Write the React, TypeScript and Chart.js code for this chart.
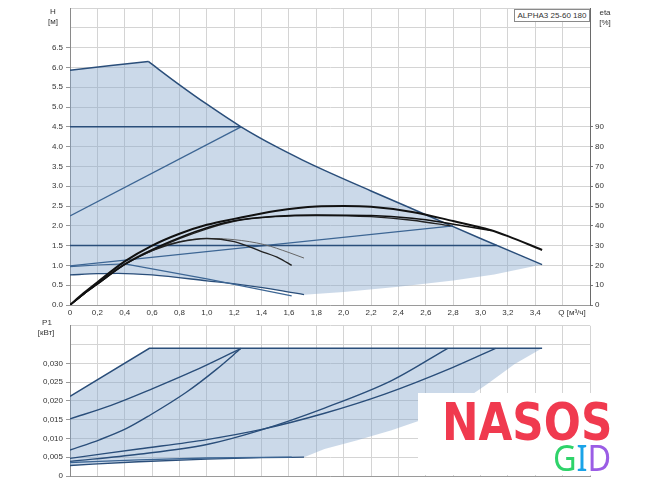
import React, { useEffect, useRef } from 'react';
import { Chart, registerables } from 'chart.js';

Chart.register(...registerables);

const FONT = '"Liberation Sans", Arial, sans-serif';
const TXT = '#333333';
const GRID = '#d4d4d4';
const BLUE = '#2a4e7a';
const BLUE2 = '#3d6694';
const BLACK = '#111111';
const FILL = 'rgba(135,168,203,0.43)';

// ---------- Top chart: H [m] vs Q [m3/h] ----------
// maximum curve: rising part (straight) and falling part (smooth)
const maxRiseQ = [0, 0.3, 0.572];
const maxRiseH = [5.93, 6.05, 6.15];
const maxFallQ = [0.572, 0.8, 1.0, 1.25, 1.5, 1.7, 1.86, 2.2, 2.6, 3.0, 3.45];
const maxFallH = [6.15, 5.56, 5.07, 4.5, 4.01, 3.66, 3.4, 2.88, 2.28, 1.68, 1.02];

const minQ = [0, 0.2, 0.35, 0.6, 1.0, 1.3, 1.53, 1.71];
const minH = [0.76, 0.79, 0.8, 0.76, 0.61, 0.49, 0.37, 0.26];

const declQ = [0, 0.2, 0.4, 1.0, 1.62];
const declH = [0.97, 1.01, 1.04, 0.66, 0.23];

const edgeQ = [1.71, 2.0, 2.4, 2.8, 3.1, 3.45];
const edgeH = [0.26, 0.33, 0.46, 0.62, 0.77, 1.02];

const constHighQ = [0, 1.25];
const constHighH = [4.5, 4.5];
const propHighQ = [0, 1.25];
const propHighH = [2.25, 4.5];
const constLowQ = [0, 3.12];
const constLowH = [1.5, 1.5];
const propLowQ = [0, 2.8];
const propLowH = [0.99, 2.0];

// efficiency curves, eta [%]
const etaAQ = [0, 0.1, 0.2, 0.4, 0.6, 0.8, 1.0, 1.2, 1.5, 1.8, 2.0, 2.2, 2.5, 2.8, 3.07, 3.2, 3.45];
const etaA = [0, 6, 11.5, 22, 30, 36, 40.5, 43.5, 47.5, 49.8, 50, 49.6, 47, 42.4, 37.9, 34.8, 27.8];
const etaBQ = [0, 0.1, 0.2, 0.4, 0.6, 0.8, 1.0, 1.2, 1.5, 1.8, 2.2, 2.5, 2.72, 2.9, 3.08];
const etaB = [0, 5.5, 10.5, 20.5, 28, 34, 39, 42.5, 44.8, 45.5, 45.2, 43.8, 41.8, 39.6, 37.6];
const etaCQ = [0, 0.1, 0.2, 0.4, 0.6, 0.8, 1.0, 1.2, 1.5, 1.8, 2.2, 2.5, 2.78];
const etaC = [0, 5.5, 10.5, 20.5, 27.5, 33.5, 38.5, 42.3, 44.6, 45.2, 44.6, 42.8, 40];
const etaDQ = [0, 0.1, 0.2, 0.4, 0.6, 0.8, 1.0, 1.2, 1.4, 1.53, 1.62];
const etaD = [0, 5.5, 11, 20.5, 27.5, 31.8, 33.6, 32, 27, 23.6, 20];
const etaEQ = [0, 0.1, 0.2, 0.4, 0.6, 0.8, 1.0, 1.2, 1.42, 1.6, 1.71];
const etaE = [0, 5.5, 11, 21, 28, 32, 33.6, 33, 30.5, 26.5, 23.7];

// ---------- Bottom chart: P1 [kW] vs Q ----------
const p1MaxQ = [0, 0.58, 3.45];
const p1MaxP = [0.0212, 0.034, 0.034];
const p1ConstHighQ = [0, 0.3, 0.6, 0.9, 1.25];
const p1ConstHighP = [0.0152, 0.0188, 0.0232, 0.0279, 0.034];
const p1PropHighQ = [0, 0.22, 0.41, 0.58, 0.85, 1.07, 1.25];
const p1PropHighP = [0.0069, 0.0097, 0.0126, 0.0161, 0.0223, 0.0284, 0.034];
const p1ConstLowQ = [0, 0.5, 1.0, 1.4, 1.86, 2.3, 2.79, 3.11];
const p1ConstLowP = [0.0047, 0.0072, 0.0097, 0.0124, 0.0167, 0.0218, 0.0288, 0.034];
const p1PropLowQ = [0, 0.5, 1.0, 1.4, 1.86, 2.35, 2.76];
const p1PropLowP = [0.0039, 0.0058, 0.0084, 0.0123, 0.0181, 0.0254, 0.034];
const p1DeclQ = [0, 0.5, 1.0, 1.62];
const p1DeclP = [0.0036, 0.0043, 0.0048, 0.005];
const p1MinQ = [0, 0.5, 1.0, 1.4, 1.71];
const p1MinP = [0.0028, 0.0038, 0.0045, 0.0049, 0.005];
const p1EdgeQ = [1.71, 1.86, 2.1, 2.35, 2.6, 2.85, 3.05, 3.25, 3.45];
const p1EdgeP = [0.005, 0.0072, 0.0095, 0.0122, 0.0153, 0.0195, 0.0245, 0.0298, 0.034];

// axis ranges / tick labels
const Q_MIN = 0;
const Q_MAX = 3.8;
const Q_STEP = 0.2;
const Q_LAST_LABEL = 3.4;
const H_MAX = 7.5;
const H_STEP = 0.5;
const H_LAST_LABEL = 6.5;
const ETA_MAX = 150;
const ETA_STEP = 10;
const ETA_LAST_LABEL = 90;
const P_MAX = 0.04;
const P_STEP = 0.005;
const P_LAST_LABEL = 0.03;

const pts = (qs: number[], vs: number[]) => qs.map((q, i) => ({ x: q, y: vs[i] }));
const rev = <T,>(a: T[]) => a.slice().reverse();

const maxQ = [...maxRiseQ, ...maxFallQ.slice(1)];
const maxH = [...maxRiseH, ...maxFallH.slice(1)];

const polygon = (upQ: number[], upV: number[], edQ: number[], edV: number[], loQ: number[], loV: number[]) => [
  ...pts(upQ, upV),
  ...rev(pts(edQ, edV)).slice(1),
  ...rev(pts(loQ, loV)).slice(1),
];

const lineDs = (qs: number[], vs: number[], color: string, width: number, axis = 'y', smooth = true) => ({
  type: 'line' as const,
  data: pts(qs, vs),
  borderColor: color,
  borderWidth: width,
  pointRadius: 0,
  fill: false,
  yAxisID: axis,
  tension: 0,
  cubicInterpolationMode: smooth ? 'monotone' : 'default',
  order: 1,
});

const fillDs = (data: { x: number; y: number }[], axis = 'y') => ({
  type: 'line' as const,
  data,
  borderWidth: 0,
  borderColor: 'rgba(0,0,0,0)',
  backgroundColor: FILL,
  pointRadius: 0,
  fill: 'shape',
  tension: 0,
  yAxisID: axis,
  order: 10,
});

const tickFont = { family: FONT, size: 8 };
const TRANSPARENT = 'rgba(0,0,0,0)';

export default function App() {
  const topRef = useRef<HTMLCanvasElement>(null);
  const botRef = useRef<HTMLCanvasElement>(null);

  useEffect(() => {
    const xScale = (showLabels: boolean, height: number) => ({
      type: 'linear',
      min: Q_MIN,
      max: Q_MAX,
      ticks: {
        stepSize: Q_STEP,
        autoSkip: false,
        maxRotation: 0,
        display: showLabels,
        padding: 1,
        color: TXT,
        font: tickFont,
        callback: (v: number) => {
          const n = Math.round(v * 10);
          if (n === 0) return '0';
          if (n > Math.round(Q_LAST_LABEL * 10)) return '';
          return (n / 10).toFixed(1).replace('.', ',');
        },
      },
      grid: { color: GRID, tickLength: showLabels ? 2 : 0, tickColor: TRANSPARENT },
      border: { color: '#9a9a9a' },
      afterFit: (s: any) => { s.height = height; },
    });

    const top = new Chart(topRef.current!, {
      type: 'line',
      data: {
        datasets: [
          lineDs(etaAQ, etaA, BLACK, 2, 'y1'),
          lineDs(etaBQ, etaB, BLACK, 1.5, 'y1'),
          lineDs(etaCQ, etaC, '#222', 1.3, 'y1'),
          lineDs(etaDQ, etaD, '#222', 1.4, 'y1'),
          lineDs(etaEQ, etaE, '#666', 1, 'y1'),
          lineDs(maxRiseQ, maxRiseH, BLUE, 1.5, 'y', false),
          lineDs(maxFallQ, maxFallH, BLUE, 1.5, 'y', true),
          lineDs(constHighQ, constHighH, BLUE, 1.5, 'y', false),
          lineDs(propHighQ, propHighH, BLUE2, 1.3, 'y', false),
          lineDs(constLowQ, constLowH, BLUE, 1.5, 'y', false),
          lineDs(propLowQ, propLowH, BLUE2, 1.3, 'y', false),
          lineDs(declQ, declH, BLUE2, 1.2, 'y', false),
          lineDs(minQ, minH, BLUE, 1.3, 'y'),
          fillDs(polygon(maxQ, maxH, edgeQ, edgeH, minQ, minH)),
        ] as any,
      },
      options: {
        responsive: false,
        animation: false,
        events: [],
        layout: { padding: { top: 8, left: 0, right: 0, bottom: 0 } },
        plugins: { legend: { display: false }, tooltip: { enabled: false } },
        scales: {
          x: xScale(true, 15) as any,
          y: {
            type: 'linear',
            position: 'left',
            min: 0,
            max: H_MAX,
            ticks: {
              stepSize: H_STEP,
              padding: 3,
              color: TXT,
              font: tickFont,
              callback: (v: number) => {
                const r = Math.round(v * 10) / 10;
                return r > H_LAST_LABEL ? '' : r.toFixed(1);
              },
            },
            grid: {
              color: GRID,
              tickLength: 4,
              tickColor: (c: any) => (c.tick && c.tick.value <= H_LAST_LABEL + 0.01 ? '#999' : TRANSPARENT),
            },
            border: { color: '#8a8a8a' },
            afterFit: (s: any) => { s.width = 70; },
          } as any,
          y1: {
            type: 'linear',
            position: 'right',
            min: 0,
            max: ETA_MAX,
            ticks: {
              stepSize: ETA_STEP,
              padding: 2,
              color: TXT,
              font: tickFont,
              callback: (v: number) => (v > ETA_LAST_LABEL ? '' : String(Math.round(v))),
            },
            grid: {
              drawOnChartArea: false,
              tickLength: 3,
              color: (c: any) => (c.tick && c.tick.value <= ETA_LAST_LABEL ? '#777' : TRANSPARENT),
            },
            border: { color: '#6a6a6a' },
            afterFit: (s: any) => { s.width = 60; },
          } as any,
        },
      },
    });

    const bot = new Chart(botRef.current!, {
      type: 'line',
      data: {
        datasets: [
          lineDs(p1MaxQ, p1MaxP, BLUE, 1.5, 'y', false),
          lineDs(p1ConstHighQ, p1ConstHighP, BLUE, 1.4),
          lineDs(p1PropHighQ, p1PropHighP, BLUE, 1.4),
          lineDs(p1ConstLowQ, p1ConstLowP, BLUE, 1.4),
          lineDs(p1PropLowQ, p1PropLowP, BLUE, 1.4),
          lineDs(p1DeclQ, p1DeclP, BLUE2, 1.3),
          lineDs(p1MinQ, p1MinP, BLUE, 1.3),
          fillDs(polygon(p1MaxQ, p1MaxP, p1EdgeQ, p1EdgeP, p1MinQ, p1MinP)),
        ] as any,
      },
      options: {
        responsive: false,
        animation: false,
        events: [],
        layout: { padding: { top: 3, left: 0, right: 60, bottom: 0 } },
        plugins: { legend: { display: false }, tooltip: { enabled: false } },
        scales: {
          x: xScale(false, 10) as any,
          y: {
            type: 'linear',
            position: 'left',
            min: 0,
            max: P_MAX,
            ticks: {
              stepSize: P_STEP,
              padding: 3,
              color: TXT,
              font: tickFont,
              callback: (v: number) => {
                const n = Math.round(v * 1000);
                if (n === 0) return '0';
                if (n > Math.round(P_LAST_LABEL * 1000)) return '';
                return '0,' + String(n).padStart(3, '0');
              },
            },
            grid: {
              color: GRID,
              tickLength: 4,
              tickColor: (c: any) => (c.tick && c.tick.value <= P_LAST_LABEL + 1e-6 ? '#999' : TRANSPARENT),
            },
            border: { color: '#8a8a8a' },
            afterFit: (s: any) => { s.width = 70; },
          } as any,
        },
      },
    });

    return () => {
      top.destroy();
      bot.destroy();
    };
  }, []);

  const label = (text: string, x: number, y: number, extra: React.CSSProperties = {}) => (
    <div
      style={{
        position: 'absolute',
        left: x,
        top: y,
        transform: 'translate(-50%, -50%)',
        fontSize: 8,
        lineHeight: 1,
        color: TXT,
        whiteSpace: 'nowrap',
        fontFamily: FONT,
        ...extra,
      }}
    >
      {text}
    </div>
  );

  return (
    <div
      style={{
        position: 'fixed',
        left: 0,
        top: 0,
        width: 650,
        height: 486,
        background: '#ffffff',
        overflow: 'hidden',
        fontFamily: FONT,
      }}
    >
      <canvas ref={topRef} width={650} height={320} style={{ position: 'absolute', left: 0, top: 0, width: 650, height: 320 }} />
      <canvas ref={botRef} width={650} height={168} style={{ position: 'absolute', left: 0, top: 318, width: 650, height: 168 }} />

      {label('H', 53, 12)}
      {label('[м]', 53, 22)}
      {label('eta', 605, 12.5)}
      {label('[%]', 605, 23)}
      {label('P1', 47, 323)}
      {label('[кВт]', 46, 333)}
      {label('Q [м³/ч]', 572, 313)}

      <div
        style={{
          position: 'absolute',
          left: 514,
          top: 9,
          width: 76,
          height: 13,
          boxSizing: 'border-box',
          border: '1px solid #8a8a8a',
          background: '#fff',
          fontSize: 8,
          lineHeight: '11px',
          textAlign: 'center',
          color: TXT,
          whiteSpace: 'nowrap',
        }}
      >
        ALPHA3 25-60 180
      </div>

      <div style={{ position: 'absolute', left: 418, top: 393, width: 232, height: 82, background: '#fff' }}>
        <div
          style={{
            position: 'absolute',
            left: 24,
            top: 3,
            fontFamily: '"DejaVu Sans", sans-serif',
            fontWeight: 700,
            fontSize: 52,
            lineHeight: 1,
            color: '#f03a4f',
            transform: 'scaleX(0.84)',
            transformOrigin: 'left top',
            whiteSpace: 'nowrap',
          }}
        >
          NASOS
        </div>
        <div
          style={{
            position: 'absolute',
            left: 135,
            top: 47,
            fontFamily: '"Noto Sans", sans-serif',
            fontWeight: 400,
            fontSize: 36,
            lineHeight: 1,
            whiteSpace: 'nowrap',
            transform: 'scaleX(0.9)',
            transformOrigin: 'left top',
          }}
        >
          <span style={{ color: '#2fd36a' }}>G</span>
          <span style={{ color: '#1aa3e8' }}>I</span>
          <span style={{ color: '#9b5de5' }}>D</span>
        </div>
      </div>
    </div>
  );
}
